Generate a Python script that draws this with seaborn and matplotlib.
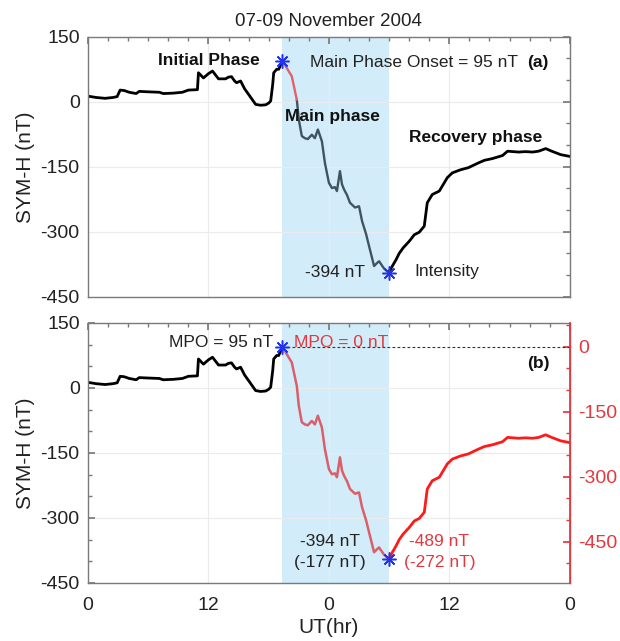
import matplotlib
matplotlib.use("Agg")
import matplotlib.pyplot as plt
from matplotlib.ticker import MultipleLocator
import numpy as np
import pandas as pd
import seaborn as sns

# ---------------- data ----------------
hours = [0.0, 0.8, 1.7, 2.5, 2.9, 3.2, 3.6, 4.1, 4.8, 5.1, 6.0, 7.1, 7.5, 8.5,
         9.4, 10.0, 10.9, 11.0, 11.5, 12.0, 12.4, 13.0, 13.7, 14.0, 14.3, 14.6,
         14.8, 15.2, 15.6, 16.0, 16.7, 17.2, 17.7, 18.0, 18.2, 18.4, 18.5, 18.8,
         19.0, 19.35, 19.8, 20.3, 20.8, 21.0, 21.3, 21.6, 21.9, 22.3, 22.6, 22.9,
         23.3, 23.6, 24.0, 24.3, 24.6, 24.8, 25.1, 25.3, 25.5, 25.8, 26.1, 26.6,
         27.0, 27.3, 27.7, 28.0, 28.5, 28.8, 29.0, 29.5, 29.95, 30.3, 30.7, 31.0,
         31.4, 32.0, 32.5, 33.0, 33.5, 33.8, 34.3, 35.0, 35.8, 36.3, 37.1, 37.9,
         38.9, 39.5, 40.3, 41.3, 41.8, 42.9, 43.6, 44.3, 44.9, 45.6, 46.2, 47.1,
         48.0]
symh = [13, 10, 8, 10, 12, 27, 26, 22, 19, 24, 23, 22, 19, 20,
        22, 27, 28, 67, 55, 65, 71, 53, 53, 57, 58, 48,
        44, 48, 30, 17, -6, -8, -7, -3, 2, 40, 67, 75,
        75, 95, 78, 59, 5, -41, -79, -84, -86, -76, -84, -64,
        -91, -141, -187, -199, -197, -206, -160, -190, -202, -215, -233, -244,
        -241, -275, -305, -333, -379, -372, -368, -385, -394, -380, -364, -350,
        -337, -322, -307, -301, -287, -233, -214, -206, -175, -164, -157, -152,
        -141, -135, -131, -124, -114, -116, -115, -116, -114, -108, -114, -122,
        -126]

onset_hour = 19.35      # main phase onset
split_hour = 20.8       # end of red part of main phase in panel (a)
min_hour = 29.95        # time of minimum SYM-H
mpo = 95                # main phase onset value (nT)
symh_min = -394         # intensity (nT)

xtick_pos = [0, 12, 24, 36, 48]
xtick_lab = ["0", "12", "0", "12", "0"]
yticks_left = [150, 0, -150, -300, -450]
yticks_right = [0, -150, -300, -450]

df = pd.DataFrame({"hour": hours, "symh": symh})
df["symh_corr"] = df["symh"] - mpo

# ---------------- style ----------------
sns.set_theme(style="white")
plt.rcParams["font.family"] = ["Liberation Sans", "DejaVu Sans"]
plt.rcParams["axes.unicode_minus"] = False

FRAME = "#7a7a7a"
RED_AX = "#e3383f"
SHADE = "#d2edf9"
STAR = "#2233ee"
TXT = "#222222"

fig = plt.figure(figsize=(6.2, 6.41), dpi=100)
ax1 = fig.add_axes([0.142, 0.537, 0.777, 0.4056])
ax2 = fig.add_axes([0.142, 0.0905, 0.777, 0.4056])

for ax in (ax1, ax2):
    ax.set_xlim(0, 48)
    ax.set_ylim(-450, 150)
    ax.axvspan(onset_hour, min_hour, color=SHADE, lw=0, zorder=0)
    ax.set_xticks(xtick_pos)
    ax.set_yticks(yticks_left)
    ax.xaxis.set_minor_locator(MultipleLocator(2))
    ax.yaxis.set_minor_locator(MultipleLocator(50))
    ax.grid(True, which="major", color="#ebebeb", lw=0.8, zorder=0.5)
    ax.set_axisbelow(True)
    for s in ax.spines.values():
        s.set_color(FRAME)
        s.set_linewidth(1.0)
    ax.tick_params(which="both", direction="in", top=True, right=True,
                   color=FRAME, labelsize=14, labelcolor=TXT, pad=6)
    ax.tick_params(which="major", length=5)
    ax.tick_params(which="minor", length=3)
    ax.tick_params(axis="x", pad=10)

ax1.set_xticklabels([])
ax2.set_xticklabels(xtick_lab)
ax1.set_title("07-09 November 2004", fontsize=13.5, color=TXT, pad=8)

h = df["hour"]
seg_pre = df[h <= onset_hour]
seg_red = df[(h >= onset_hour) & (h <= split_hour)]
seg_main = df[(h >= split_hour) & (h <= min_hour)]
seg_main_all = df[(h >= onset_hour) & (h <= min_hour)]
seg_rec = df[h >= min_hour]

# ---------------- panel (a) ----------------
sns.lineplot(data=seg_pre, x="hour", y="symh", ax=ax1, color="black", lw=2.0,
             estimator=None, legend=False)
sns.lineplot(data=seg_main, x="hour", y="symh", ax=ax1, color="#3e5560", lw=1.7,
             estimator=None, legend=False)
sns.lineplot(data=seg_red, x="hour", y="symh", ax=ax1, color="#e3606a", lw=1.7,
             estimator=None, legend=False)
sns.lineplot(data=seg_rec, x="hour", y="symh", ax=ax1, color="black", lw=2.0,
             estimator=None, legend=False)
ax1.plot([onset_hour, min_hour], [mpo, symh_min], ls="none", marker=(8, 2, 0),
         ms=10, mew=1.1, color=STAR, zorder=5)
ax1.set_xlabel("")
ax1.set_ylabel("SYM-H (nT)", fontsize=15, color=TXT, labelpad=4)

ax1.text(17.1, 96, "Initial Phase", ha="right", va="center", fontsize=12.5,
         fontweight="bold", color="#111111")
ax1.text(22.1, 90, "Main Phase Onset = 95 nT", ha="left", va="center",
         fontsize=12.5, color=TXT)
ax1.text(44.8, 90, "(a)", ha="center", va="center", fontsize=12.5,
         fontweight="bold", color="#111111")
ax1.text(19.6, -34, "Main phase", ha="left", va="center", fontsize=12.5,
         fontweight="bold", color="#111111")
ax1.text(32.0, -83, "Recovery phase", ha="left", va="center", fontsize=12.5,
         fontweight="bold", color="#111111")
ax1.text(27.6, -395, "-394 nT", ha="right", va="center", fontsize=12.5,
         color=TXT)
ax1.text(32.5, -391, "Intensity", ha="left", va="center", fontsize=12.5,
         color=TXT)

# ---------------- panel (b) ----------------
ax2r = ax2.twinx()
ax2r.set_ylim(-450 - mpo, 150 - mpo)
ax2r.set_yticks(yticks_right)
ax2r.yaxis.set_minor_locator(MultipleLocator(50))
ax2r.tick_params(which="both", direction="in", color=RED_AX, labelsize=14,
                 labelcolor=RED_AX, pad=6)
ax2r.tick_params(which="major", length=5)
ax2r.tick_params(which="minor", length=3)
ax2r.spines["right"].set_color(RED_AX)
for side in ("left", "top", "bottom"):
    ax2r.spines[side].set_visible(False)
ax2r.grid(False)

sns.lineplot(data=seg_pre, x="hour", y="symh", ax=ax2, color="black", lw=2.0,
             estimator=None, legend=False)
ax2.set_xlabel("UT(hr)", fontsize=15, color=TXT, labelpad=3)
ax2.set_ylabel("SYM-H (nT)", fontsize=15, color=TXT, labelpad=4)

ax2r.hlines(0, onset_hour, 48, colors="#333333", linestyles=(0, (2.5, 2)), lw=0.8)
sns.lineplot(data=seg_rec, x="hour", y="symh_corr", ax=ax2r, color="#ff1a1a",
             lw=2.0, estimator=None, legend=False)
sns.lineplot(data=seg_main_all, x="hour", y="symh_corr", ax=ax2r, color="#d9606a",
             lw=1.8, estimator=None, legend=False)
ax2r.plot([onset_hour, min_hour], [mpo - mpo, symh_min - mpo], ls="none",
          marker=(8, 2, 0), ms=10, mew=1.1, color=STAR, zorder=5)
ax2r.set_ylabel("")
ax2r.set_xlim(0, 48)

ax2.text(18.4, 106, "MPO = 95 nT", ha="right", va="center", fontsize=12.5,
         color=TXT)
ax2.text(20.5, 106, "MPO = 0 nT", ha="left", va="center", fontsize=12.5,
         color=RED_AX)
ax2.text(44.9, 56, "(b)", ha="center", va="center", fontsize=12.5,
         fontweight="bold", color="#111111")
ax2.text(24.1, -379, "-394 nT\n(-177 nT)", ha="center", va="center",
         fontsize=12.5, color=TXT, linespacing=1.5)
ax2.text(35.0, -379, "-489 nT\n(-272 nT)", ha="center", va="center",
         fontsize=12.5, color=RED_AX, linespacing=1.5)

fig.savefig("out.png", dpi=100)
